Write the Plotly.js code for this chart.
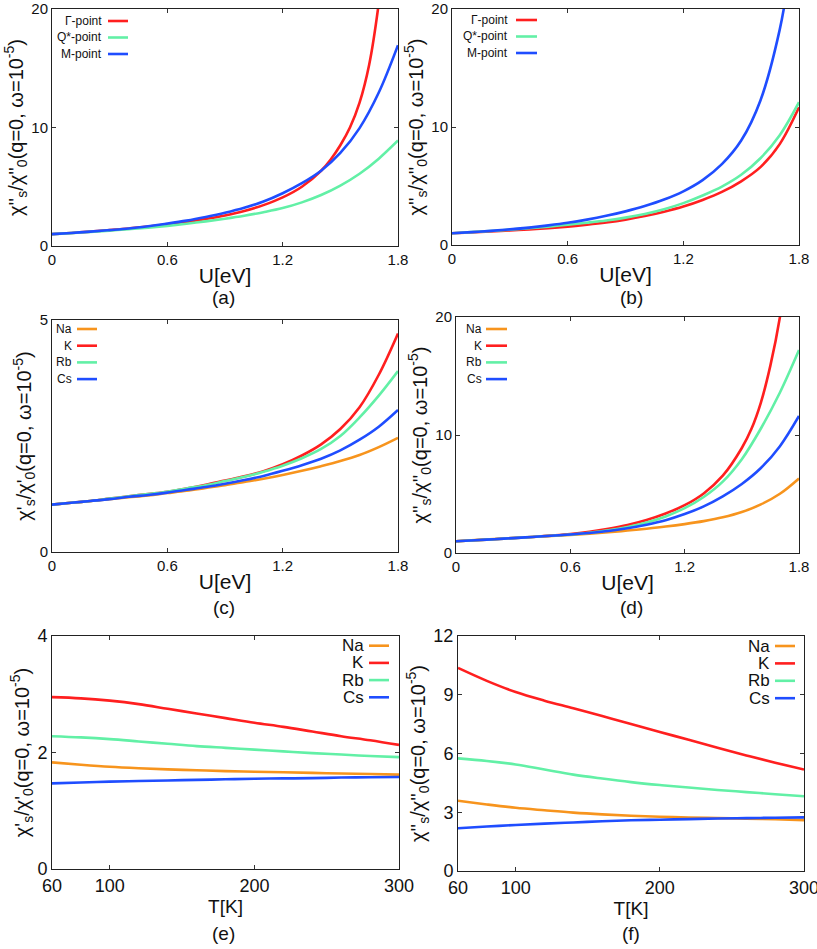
<!DOCTYPE html>
<html>
<head>
<meta charset="utf-8">
<script src="https://cdn.plot.ly/plotly-3.0.1.min.js"></script>
<style>html,body{margin:0;padding:0;background:#fff;}#chart{width:817px;height:949px;}</style>
</head>
<body>
<div id="chart"></div>
<script>
// ---------------- DATA ----------------
const U_GRID = [0, 0.1, 0.2, 0.3, 0.4, 0.5, 0.6, 0.7, 0.8, 0.9, 1.0, 1.1, 1.2, 1.3, 1.4, 1.5, 1.6, 1.7, 1.8];
// Panel (a)
const U_A_GAMMA = [0, 0.1, 0.2, 0.3, 0.4, 0.5, 0.6, 0.7, 0.8, 0.9, 1.0, 1.1, 1.2, 1.3, 1.4, 1.45, 1.5, 1.55, 1.6, 1.65, 1.7, 1.75];
const A_GAMMA   = [1.0, 1.1, 1.21, 1.34, 1.48, 1.65, 1.83, 2.03, 2.28, 2.58, 2.95, 3.45, 4.1, 5.0, 6.35, 7.3, 8.5, 10.0, 12.1, 15.3, 20.5, 28.0];
const A_QSTAR   = [1.0, 1.09, 1.19, 1.3, 1.42, 1.55, 1.7, 1.88, 2.08, 2.3, 2.55, 2.85, 3.2, 3.68, 4.3, 5.1, 6.1, 7.37, 8.9];
const A_M       = [1.0, 1.1, 1.21, 1.34, 1.48, 1.67, 1.89, 2.14, 2.45, 2.8, 3.22, 3.75, 4.45, 5.3, 6.35, 7.85, 9.95, 12.95, 16.95];
// Panel (b)
const B_GAMMA   = [1.0, 1.07, 1.15, 1.23, 1.32, 1.43, 1.56, 1.72, 1.91, 2.15, 2.45, 2.82, 3.26, 3.82, 4.5, 5.4, 6.6, 8.55, 11.67];
const B_QSTAR   = [1.0, 1.09, 1.19, 1.3, 1.43, 1.56, 1.72, 1.89, 2.08, 2.32, 2.63, 3.03, 3.55, 4.2, 4.95, 5.95, 7.35, 9.3, 12.1];
const U_B_M     = [0, 0.1, 0.2, 0.3, 0.4, 0.5, 0.6, 0.7, 0.8, 0.9, 1.0, 1.1, 1.2, 1.3, 1.4, 1.5, 1.6, 1.7, 1.75];
const B_M       = [1.0, 1.09, 1.2, 1.32, 1.47, 1.66, 1.88, 2.15, 2.47, 2.85, 3.3, 3.85, 4.55, 5.5, 6.85, 8.85, 12.25, 18.25, 23.0];
// Panel (c)
const C_NA  = [1.02, 1.06, 1.10, 1.14, 1.18, 1.22, 1.27, 1.32, 1.38, 1.44, 1.51, 1.58, 1.66, 1.75, 1.85, 1.96, 2.09, 2.26, 2.46];
const C_K   = [1.02, 1.06, 1.10, 1.15, 1.20, 1.25, 1.30, 1.37, 1.45, 1.54, 1.63, 1.74, 1.89, 2.08, 2.32, 2.65, 3.12, 3.82, 4.71];
const C_RB  = [1.02, 1.06, 1.10, 1.15, 1.20, 1.25, 1.30, 1.37, 1.44, 1.53, 1.62, 1.73, 1.86, 2.02, 2.22, 2.5, 2.9, 3.37, 3.9];
const C_CS  = [1.02, 1.06, 1.10, 1.14, 1.19, 1.23, 1.28, 1.34, 1.40, 1.47, 1.55, 1.64, 1.75, 1.87, 2.01, 2.19, 2.42, 2.7, 3.06];
// Panel (d)
const D_NA  = [1.0, 1.09, 1.18, 1.27, 1.36, 1.45, 1.54, 1.64, 1.76, 1.9, 2.06, 2.24, 2.45, 2.7, 3.02, 3.47, 4.12, 5.02, 6.32];
const D_RB  = [1.0, 1.08, 1.17, 1.26, 1.36, 1.46, 1.57, 1.72, 1.92, 2.2, 2.58, 3.1, 3.8, 4.75, 6.05, 7.95, 10.55, 13.6, 17.2];
const D_CS  = [1.0, 1.08, 1.17, 1.26, 1.36, 1.46, 1.57, 1.7, 1.86, 2.1, 2.4, 2.78, 3.3, 3.95, 4.8, 5.85, 7.2, 9.05, 11.61];
const U_D_K = [0, 0.1, 0.2, 0.3, 0.4, 0.5, 0.6, 0.7, 0.8, 0.9, 1.0, 1.1, 1.2, 1.3, 1.4, 1.5, 1.55, 1.6, 1.65, 1.7, 1.75];
const D_K   = [1.0, 1.08, 1.17, 1.26, 1.36, 1.47, 1.6, 1.8, 2.06, 2.38, 2.8, 3.35, 4.05, 5.05, 6.55, 8.9, 10.5, 12.75, 15.9, 20.0, 26.0];
// Panels (e), (f)
const T_EF  = [60, 80, 100, 120, 140, 160, 180, 200, 220, 240, 260, 280, 300];
const E_NA  = [1.83, 1.79, 1.755, 1.73, 1.71, 1.695, 1.68, 1.67, 1.66, 1.65, 1.64, 1.63, 1.62];
const E_K   = [2.95, 2.93, 2.89, 2.83, 2.75, 2.67, 2.59, 2.51, 2.44, 2.36, 2.28, 2.21, 2.13];
const E_RB  = [2.28, 2.26, 2.23, 2.19, 2.15, 2.11, 2.08, 2.05, 2.02, 1.99, 1.965, 1.94, 1.92];
const E_CS  = [1.47, 1.485, 1.50, 1.51, 1.52, 1.53, 1.54, 1.55, 1.555, 1.56, 1.57, 1.575, 1.58];
const F_NA  = [3.59, 3.40, 3.23, 3.10, 2.98, 2.89, 2.82, 2.77, 2.73, 2.70, 2.67, 2.64, 2.60];
const F_K   = [10.37, 9.71, 9.14, 8.70, 8.31, 7.91, 7.51, 7.10, 6.70, 6.29, 5.90, 5.53, 5.18];
const F_RB  = [5.75, 5.62, 5.44, 5.18, 4.92, 4.72, 4.54, 4.39, 4.26, 4.14, 4.03, 3.92, 3.82];
const F_CS  = [2.18, 2.27, 2.35, 2.42, 2.48, 2.54, 2.59, 2.62, 2.65, 2.68, 2.70, 2.72, 2.74];

const POINT_NAMES = ['Γ-point', 'Q*-point', 'M-point'];
const METAL_NAMES = ['Na', 'K', 'Rb', 'Cs'];
const U_TICKS = [0, 0.6, 1.2, 1.8];
const U_TICKTEXT = ['0', '0.6', '1.2', '1.8'];
const T_TICKS = [60, 100, 200, 300];
const PANEL_LABELS = ['(a)', '(b)', '(c)', '(d)', '(e)', '(f)'];

// ---------------- STYLE ----------------
const RED = '#ff1f1f', GREEN = '#62f0a6', BLUE = '#1f4dff', ORANGE = '#f7941d';
const POINT_COLORS = [RED, GREEN, BLUE];
const METAL_COLORS = [ORANGE, RED, GREEN, BLUE];
const FONT = 'Liberation Sans, Arial, sans-serif';
const W = 817, H = 949;
const px = v => v / W;
const py = v => 1 - v / H;

const traces = [];
function addLine(x, y, color, ax) {
  traces.push({
    x: x, y: y, type: 'scatter', mode: 'lines',
    line: {color: color, width: 2.6, shape: 'spline', smoothing: 1},
    xaxis: 'x' + (ax === 1 ? '' : ax), yaxis: 'y' + (ax === 1 ? '' : ax),
    showlegend: false, hoverinfo: 'x+y'
  });
}
// (a)
addLine(U_A_GAMMA, A_GAMMA, POINT_COLORS[0], 1);
addLine(U_GRID, A_QSTAR, POINT_COLORS[1], 1);
addLine(U_GRID, A_M, POINT_COLORS[2], 1);
// (b)
addLine(U_GRID, B_GAMMA, POINT_COLORS[0], 2);
addLine(U_GRID, B_QSTAR, POINT_COLORS[1], 2);
addLine(U_B_M, B_M, POINT_COLORS[2], 2);
// (c)
addLine(U_GRID, C_NA, METAL_COLORS[0], 3);
addLine(U_GRID, C_K, METAL_COLORS[1], 3);
addLine(U_GRID, C_RB, METAL_COLORS[2], 3);
addLine(U_GRID, C_CS, METAL_COLORS[3], 3);
// (d)
addLine(U_GRID, D_NA, METAL_COLORS[0], 4);
addLine(U_D_K, D_K, METAL_COLORS[1], 4);
addLine(U_GRID, D_RB, METAL_COLORS[2], 4);
addLine(U_GRID, D_CS, METAL_COLORS[3], 4);
// (e)
addLine(T_EF, E_NA, METAL_COLORS[0], 5);
addLine(T_EF, E_K, METAL_COLORS[1], 5);
addLine(T_EF, E_RB, METAL_COLORS[2], 5);
addLine(T_EF, E_CS, METAL_COLORS[3], 5);
// (f)
addLine(T_EF, F_NA, METAL_COLORS[0], 6);
addLine(T_EF, F_K, METAL_COLORS[1], 6);
addLine(T_EF, F_RB, METAL_COLORS[2], 6);
addLine(T_EF, F_CS, METAL_COLORS[3], 6);

// panel pixel boxes [left, right, top, bottom]
const BOX = [
  [52, 398, 9, 246],
  [452, 799, 9, 245],
  [52, 398, 320, 552],
  [456, 799, 317, 553],
  [52, 399, 636, 869],
  [458, 804, 636, 871]
];

const Y2 = "χ''<sub>s</sub>/χ''<sub>0</sub>(q=0, ω=10<sup>-5</sup>)";
const Y1 = "χ'<sub>s</sub>/χ'<sub>0</sub>(q=0, ω=10<sup>-5</sup>)";
const YTITLES = [Y2, Y2, Y1, Y2, Y1, Y2];
const YRANGES = [[0, 20], [0, 20], [0, 5], [0, 20], [0, 4], [0, 12]];
const YDTICK = [10, 10, 5, 10, 2, 3];

function baseAxis(fs) {
  return {
    showline: true, mirror: 'ticks', linecolor: '#222', linewidth: 1,
    ticks: 'inside', ticklen: 4, tickcolor: '#333', tickwidth: 1,
    showgrid: false, zeroline: false, ticklabeloverflow: 'allow',
    tickfont: {family: FONT, size: fs, color: '#111'}
  };
}

const layout = {
  width: W, height: H,
  margin: {l: 0, r: 0, t: 0, b: 0},
  paper_bgcolor: '#fff', plot_bgcolor: '#fff',
  font: {family: FONT, color: '#111'},
  showlegend: false,
  annotations: [], shapes: []
};

for (let i = 0; i < 6; i++) {
  const n = i + 1, sfx = n === 1 ? '' : String(n);
  const b = BOX[i];
  const isT = i >= 4;
  const fs = isT ? 18 : 15;
  const xa = Object.assign(baseAxis(fs), {
    domain: [px(b[0]), px(b[1])],
    anchor: 'y' + sfx,
    range: isT ? [60, 300] : [0, 1.8],
    tickvals: isT ? T_TICKS : U_TICKS,
    ticktext: isT ? T_TICKS.map(String) : U_TICKTEXT,
    title: {text: isT ? 'T[K]' : 'U[eV]', font: {family: FONT, size: isT ? 19 : 21}, standoff: isT ? 0 : 1}
  });
  const ya = Object.assign(baseAxis(fs), {
    domain: [py(b[3]), py(b[2])],
    anchor: 'x' + sfx,
    range: YRANGES[i], dtick: YDTICK[i], tick0: 0,
    title: {text: YTITLES[i], font: {family: FONT, size: 20}, standoff: 2}
  });
  layout['xaxis' + sfx] = xa;
  layout['yaxis' + sfx] = ya;
}

// subplot labels
const LABEL_POS = [[224, 298], [631, 298], [224, 607], [631, 607], [223, 933], [631, 933]];
PANEL_LABELS.forEach((t, i) => {
  layout.annotations.push({
    text: t, xref: 'paper', yref: 'paper', x: px(LABEL_POS[i][0]), y: py(LABEL_POS[i][1]),
    xanchor: 'center', yanchor: 'middle', showarrow: false,
    font: {family: FONT, size: 19, color: '#111'}
  });
});

// legends (text left of line sample)
const LEG = [
  {names: POINT_NAMES, colors: POINT_COLORS, tr: 104, l0: 108, l1: 128, y0: 21, dy: 16.5, fs: 12},
  {names: POINT_NAMES, colors: POINT_COLORS, tr: 510, l0: 516, l1: 537, y0: 20, dy: 16.5, fs: 12},
  {names: METAL_NAMES, colors: METAL_COLORS, tr: 74, l0: 77, l1: 97, y0: 329, dy: 16.7, fs: 12},
  {names: METAL_NAMES, colors: METAL_COLORS, tr: 484, l0: 486, l1: 507, y0: 329, dy: 16.7, fs: 12},
  {names: METAL_NAMES, colors: METAL_COLORS, tr: 366, l0: 369, l1: 389, y0: 645.7, dy: 17.2, fs: 17},
  {names: METAL_NAMES, colors: METAL_COLORS, tr: 772, l0: 775, l1: 795, y0: 646, dy: 17.4, fs: 17}
];
LEG.forEach(g => {
  g.names.forEach((nm, k) => {
    const yy = g.y0 + k * g.dy;
    layout.annotations.push({
      text: nm, xref: 'paper', yref: 'paper', x: px(g.tr), y: py(yy),
      xanchor: 'right', yanchor: 'middle', showarrow: false,
      font: {family: FONT, size: g.fs, color: '#111'}
    });
    layout.shapes.push({
      type: 'line', xref: 'paper', yref: 'paper',
      x0: px(g.l0), x1: px(g.l1), y0: py(yy), y1: py(yy),
      line: {color: g.colors[k], width: 2.6}
    });
  });
});

Plotly.newPlot('chart', traces, layout, {staticPlot: true, displayModeBar: false});
</script>
</body>
</html>
